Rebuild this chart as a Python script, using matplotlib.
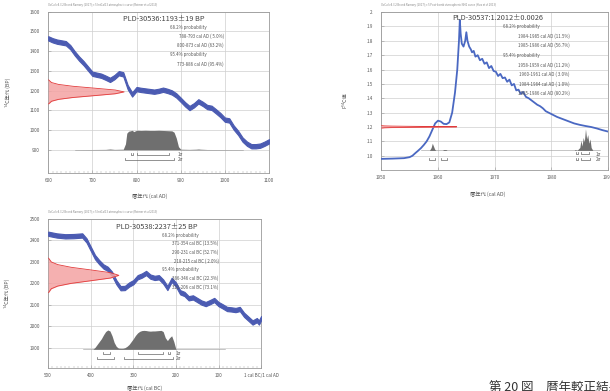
import numpy as np
import matplotlib.pyplot as plt
from matplotlib.ticker import MultipleLocator

plt.rcParams['font.family'] = ['Noto Sans CJK JP', 'DejaVu Sans']
plt.rcParams['axes.unicode_minus'] = False

BLUE = '#4b5bb2'
BLUE2 = '#4a68c2'
RED_FILL = '#f4a3a3'
RED_EDGE = '#e23b3b'
GREY = '#6f6f6f'
TXT = '#555555'
GRID = '#cfcfcf'

# ---- PLD-30536 (IntCal13) ----
p1_years = [600, 610, 620, 630, 640, 650, 660, 670, 680, 690, 700, 710, 720, 730, 740, 750,
            760, 770, 780, 790, 800, 810, 820, 830, 840, 850, 860, 870, 880, 890, 900, 910,
            920, 930, 940, 950, 960, 970, 980, 990, 1000, 1010, 1020, 1030, 1040, 1050,
            1060, 1070, 1080, 1090, 1100]
p1_bp = [1465, 1455, 1448, 1444, 1440, 1420, 1389, 1362, 1339, 1312, 1285, 1280, 1275, 1265,
         1254, 1268, 1288, 1282, 1217, 1180, 1207, 1203, 1200, 1197, 1194, 1198, 1204, 1198,
         1190, 1175, 1153, 1130, 1111, 1125, 1145, 1132, 1116, 1112, 1094, 1075, 1052, 1048,
         1012, 985, 951, 930, 917, 917, 920, 930, 942]
p1_err = 11
p1_date, p1_sd = 1193, 19
p1_hist_x = [660, 700, 730, 740, 750, 770, 775, 778, 782, 786, 790, 794, 798, 802, 810, 820,
             830, 840, 850, 860, 870, 880, 885, 890, 895, 900, 920, 935, 940, 945, 960, 1040]
p1_hist_y = [0, 0.005, 0.01, 0.03, 0.01, 0.02, 0.3, 0.85, 0.95, 0.97, 1.0, 0.93, 0.98, 1.0,
             0.99, 1.0, 0.99, 0.99, 1.0, 0.99, 0.98, 0.97, 0.9, 0.6, 0.15, 0.02, 0.01, 0.02,
             0.03, 0.02, 0.005, 0]
p1_s1 = [(788, 793), (800, 873)]
p1_s2 = [(773, 886)]
p1_lines = ['68.2% probability', '788-793 cal AD ( 5.0%)', '800-873 cal AD (63.2%)',
            '95.4% probability', '773-886 cal AD (95.4%)']

# ---- PLD-30537 (post-bomb NH1) ----
p2_years = [1950, 1952, 1954, 1955, 1955.5, 1956, 1956.5, 1957, 1957.5, 1958, 1958.5, 1959,
            1959.5, 1960, 1960.5, 1961, 1961.5, 1962, 1962.5, 1963, 1963.4, 1963.7, 1963.85,
            1964.0, 1964.2, 1964.5, 1964.8, 1965.0, 1965.2, 1965.5, 1965.8, 1966.0, 1966.3,
            1966.6, 1967.0, 1967.4, 1967.8, 1968.2, 1968.6, 1969.0, 1969.4, 1969.8, 1970.2,
            1970.6, 1971.0, 1971.4, 1971.8, 1972.2, 1972.6, 1973.0, 1973.4, 1973.8, 1974.2,
            1974.6, 1975.0, 1975.5, 1976.0, 1976.5, 1977.0, 1977.5, 1978.0, 1978.5, 1979,
            1980, 1981, 1982, 1983, 1984, 1985, 1986, 1987, 1988, 1989, 1990]
p2_f14c = [0.978, 0.980, 0.983, 0.990, 1.000, 1.018, 1.035, 1.053, 1.075, 1.100, 1.135, 1.180,
           1.225, 1.244, 1.238, 1.222, 1.220, 1.232, 1.300, 1.440, 1.600, 1.800, 1.945,
           1.85, 1.78, 1.76, 1.80, 1.86, 1.80, 1.76, 1.74, 1.72, 1.73, 1.69, 1.70, 1.665,
           1.675, 1.64, 1.65, 1.61, 1.625, 1.59, 1.585, 1.555, 1.57, 1.54, 1.545, 1.515,
           1.53, 1.49, 1.50, 1.455, 1.46, 1.43, 1.445, 1.41, 1.40, 1.385, 1.37, 1.355, 1.345,
           1.33, 1.31, 1.29, 1.27, 1.255, 1.24, 1.225, 1.215, 1.207, 1.20, 1.19, 1.178, 1.168]
p2_date, p2_sd = 1.2012, 0.0026
p2_hist_x = [1958.5, 1958.8, 1959.0, 1959.2, 1959.4, 1959.6, 1960.8, 1961.0, 1961.4, 1961.6,
             1984.0, 1984.2, 1984.5, 1985.0, 1985.2, 1985.4, 1985.6, 1985.8, 1986.0, 1986.2,
             1986.4, 1986.6, 1986.8, 1987.0, 1987.3]
p2_hist_y = [0, 0.02, 0.05, 0.03, 0.01, 0, 0, 0.006, 0.006, 0,
             0, 0.006, 0, 0.02, 0.07, 0.03, 0.09, 0.06, 0.15, 0.08, 0.11, 0.05, 0.08, 0.02, 0]
p2_s1 = [(1984.3, 1984.6), (1985.2, 1986.6)]
p2_s2 = [(1958.4, 1959.4), (1960.6, 1961.6), (1984.3, 1984.6), (1985.2, 1986.8)]
p2_lines = ['68.2% probability', '1984-1985 cal AD (11.5%)', '1985-1986 cal AD (56.7%)',
            '95.4% probability', '1958-1959 cal AD (11.2%)', '1960-1961 cal AD ( 3.0%)',
            '1984-1984 cal AD ( 1.0%)', '1985-1986 cal AD (80.2%)']

# ---- PLD-30538 (IntCal13, BC as negative) ----
p3_years = [-500, -480, -460, -440, -420, -410, -400, -390, -380, -370, -360, -350, -340,
            -330, -320, -310, -300, -290, -280, -270, -260, -250, -240, -230, -220, -210,
            -200, -190, -180, -170, -160, -150, -140, -130, -120, -110, -100, -90, -80, -70,
            -60, -50, -40, -30, -20, -10, -5, 0]
p3_bp = [2431, 2423, 2419, 2420, 2423, 2400, 2361, 2322, 2298, 2278, 2267, 2244, 2205, 2177,
         2178, 2194, 2205, 2228, 2236, 2248, 2231, 2225, 2228, 2208, 2178, 2216, 2194, 2158,
         2150, 2130, 2134, 2122, 2110, 2103, 2112, 2122, 2103, 2092, 2080, 2078, 2075, 2080,
         2053, 2035, 2017, 2028, 2017, 2037]
p3_err = 10
p3_date, p3_sd = 2237, 25
p3_hist_x = [-395, -390, -385, -380, -375, -370, -365, -360, -355, -350, -345, -340, -335,
             -330, -325, -320, -315, -310, -305, -300, -295, -290, -285, -280, -275, -270,
             -265, -260, -255, -250, -245, -240, -235, -230, -225, -220, -215, -210, -205, -200]
p3_hist_y = [0, 0.1, 0.25, 0.4, 0.55, 0.75, 0.92, 1.0, 0.95, 0.7, 0.35, 0.15, 0.06, 0.05,
             0.05, 0.08, 0.15, 0.25, 0.4, 0.55, 0.72, 0.85, 0.93, 0.97, 0.98, 0.97, 0.95,
             0.94, 0.95, 0.95, 0.96, 0.97, 0.98, 0.92, 0.6, 0.45, 0.6, 0.7, 0.4, 0]
p3_s1 = [(-371, -354), (-290, -231), (-218, -215)]
p3_s2 = [(-386, -346), (-321, -206)]
p3_lines = ['68.2% probability', '371-354 cal BC (13.5%)', '290-231 cal BC (52.7%)',
            '218-215 cal BC ( 2.0%)', '95.4% probability', '386-346 cal BC (22.3%)',
            '321-206 cal BC (73.1%)']

# red date profile (offset in sd, relative width)
red_off = [-3.2, -2.5, -2.0, -1.5, -1.0, -0.5, 0, 0.5, 1.0, 1.5, 2.0, 2.5, 3.2]
red_w = [0.006, 0.044, 0.135, 0.325, 0.607, 0.882, 1.0, 0.882, 0.607, 0.325, 0.135, 0.044, 0.006]

HDR1 = 'OxCal v4.3.2 Bronk Ramsey (2017); r:5 IntCal13 atmospheric curve (Reimer et al 2013)'
HDR2 = 'OxCal v4.3.2 Bronk Ramsey (2017); r:5 Post-bomb atmospheric NH1 curve (Hua et al 2013)'


def style_axes(ax, hdr):
    for s in ax.spines.values():
        s.set_color('#9a9a9a')
        s.set_linewidth(0.6)
    ax.grid(True, color=GRID, lw=0.5)
    ax.set_axisbelow(True)
    ax.tick_params(direction='in', length=2, width=0.4, colors='#9a9a9a',
                   labelsize=3.3, labelcolor=TXT)
    ax.tick_params(axis='y', pad=6)
    ax.tick_params(axis='x', pad=3.5)
    ax.tick_params(which='minor', direction='in', length=1.2, width=0.3, colors='#9a9a9a')
    ax.text(0.0, 1.03, hdr, transform=ax.transAxes, fontsize=2, color='#888888', va='bottom')


def draw_panel(ax, years, vals, err, date, sd, xmin, xpeak, hx, hy, hbase, hscale,
               hspan, s1, s2, row1, row2, lab_x, blue, lw):
    # calibration curve
    v = np.array(vals)
    if err:
        ax.fill_between(years, v - err, v + err, color=blue, lw=0.8, zorder=3)
    else:
        ax.plot(years, v, color=blue, lw=lw, zorder=3)
    # date distribution
    ry = [date + o * sd for o in red_off]
    rx = [xmin + w * (xpeak - xmin) for w in red_w]
    ax.fill_betweenx(ry, xmin, rx, color=RED_FILL, alpha=0.85, lw=0, zorder=4)
    ax.plot(rx, ry, color=RED_EDGE, lw=0.6, zorder=4)
    # calibrated distribution
    ax.plot(hspan, [hbase, hbase], color='#999999', lw=0.4, zorder=2)
    ax.fill_between(hx, hbase, hbase + np.array(hy) * hscale, color=GREY, lw=0, zorder=5)
    # ranges
    rng = ax.get_ylim()
    tick = (rng[1] - rng[0]) * 0.012
    for row, spans in ((row1, s1), (row2, s2)):
        for a, b in spans:
            ax.plot([a, a, b, b], [row + tick, row, row, row + tick], color='#666666',
                    lw=0.5, zorder=5)
    ax.text(lab_x, row1, '1σ', fontsize=3.3, color=TXT, va='center')
    ax.text(lab_x, row2, '2σ', fontsize=3.3, color=TXT, va='center')


def prob_text(ax, title, tx, ty, lines, lx, rx, ys):
    ax.text(tx, ty, title, transform=ax.transAxes, fontsize=5.3, color='#444444',
            ha='center', va='center', zorder=6)
    for s, y in zip(lines, ys):
        if 'probability' in s:
            ax.text(lx, y, s, transform=ax.transAxes, fontsize=3.2, color=TXT,
                    ha='left', va='center', zorder=6)
        else:
            ax.text(rx, y, s, transform=ax.transAxes, fontsize=3.2, color=TXT,
                    ha='right', va='center', zorder=6)


fig = plt.figure(figsize=(6.1, 3.91), dpi=100)

# panel 1
ax1 = fig.add_axes([0.079, 0.558, 0.362, 0.412])
ax1.set_xlim(600, 1100)
ax1.set_ylim(782, 1600)
ax1.set_xticks(range(600, 1101, 100))
ax1.set_yticks(range(900, 1601, 100))
ax1.xaxis.set_minor_locator(MultipleLocator(10))
style_axes(ax1, HDR1)
draw_panel(ax1, p1_years, p1_bp, p1_err, p1_date, p1_sd, 600, 772, p1_hist_x, p1_hist_y,
           900, 98, (660, 1040), p1_s1, p1_s2, 875, 848, 893, BLUE, 0)
prob_text(ax1, 'PLD-30536:1193±19 BP', 0.523, 0.955, p1_lines, 0.552, 0.796,
          [0.902, 0.847, 0.791, 0.733, 0.675])
ax1.set_xlabel('暦年代 (cal AD)', fontsize=3.8, color=TXT)
ax1.set_ylabel('¹⁴C年代 (BP)', fontsize=3.8, color=TXT)
ax1.xaxis.set_label_coords(0.46, -0.125)
ax1.yaxis.set_label_coords(-0.17, 0.5)

# panel 2
ax2 = fig.add_axes([0.625, 0.565, 0.372, 0.404])
ax2.set_xlim(1950, 1990)
ax2.set_ylim(0.9, 2.0)
ax2.set_xticks(range(1950, 1991, 10))
yt2 = [1.0, 1.1, 1.2, 1.3, 1.4, 1.5, 1.6, 1.7, 1.8, 1.9, 2.0]
ax2.set_yticks(yt2)
ax2.set_yticklabels(['1.0', '1.1', '1.2', '1.3', '1.4', '1.5', '1.6', '1.7', '1.8', '1.9', '2'])
style_axes(ax2, HDR2)
draw_panel(ax2, p2_years, p2_f14c, 0, p2_date, p2_sd, 1950, 1963.3, p2_hist_x, p2_hist_y,
           1.037, 1.0, (1957, 1988.5), p2_s1, p2_s2, 1.012, 0.972, 1987.8, BLUE2, 1.3)
prob_text(ax2, 'PLD-30537:1.2012±0.0026', 0.513, 0.962, p2_lines, 0.537, 0.83,
          [0.907, 0.846, 0.787, 0.726, 0.666, 0.608, 0.546, 0.485])
ax2.set_xlabel('暦年代 (cal AD)', fontsize=3.8, color=TXT)
ax2.set_ylabel('F¹⁴C値', fontsize=3.8, color=TXT)
ax2.xaxis.set_label_coords(0.467, -0.133)
ax2.yaxis.set_label_coords(-0.15, 0.44)

# panel 3
ax3 = fig.add_axes([0.079, 0.059, 0.349, 0.381])
ax3.set_xlim(-500, 0)
ax3.set_ylim(1805, 2500)
ax3.set_xticks(range(-500, 1, 100))
ax3.set_xticklabels(['500', '400', '300', '200', '100', '1 cal BC/1 cal AD'])
ax3.set_yticks(range(1900, 2501, 100))
ax3.xaxis.set_minor_locator(MultipleLocator(10))
style_axes(ax3, HDR1)
draw_panel(ax3, p3_years, p3_bp, p3_err, p3_date, p3_sd, -500, -334, p3_hist_x, p3_hist_y,
           1892, 90, (-418, -85), p3_s1, p3_s2, 1872, 1848, -200, BLUE, 0)
prob_text(ax3, 'PLD-30538:2237±25 BP', 0.512, 0.944, p3_lines, 0.536, 0.80,
          [0.888, 0.834, 0.779, 0.718, 0.662, 0.602, 0.541])
ax3.set_xlabel('暦年代 (cal BC)', fontsize=3.8, color=TXT)
ax3.set_ylabel('¹⁴C年代 (BP)', fontsize=3.8, color=TXT)
ax3.xaxis.set_label_coords(0.455, -0.115)
ax3.yaxis.set_label_coords(-0.18, 0.5)

fig.text(0.801, 0.022, '第 20 図　暦年較正結果', fontsize=9, color='#333333', va='top')

fig.savefig('out.png', dpi=100)
